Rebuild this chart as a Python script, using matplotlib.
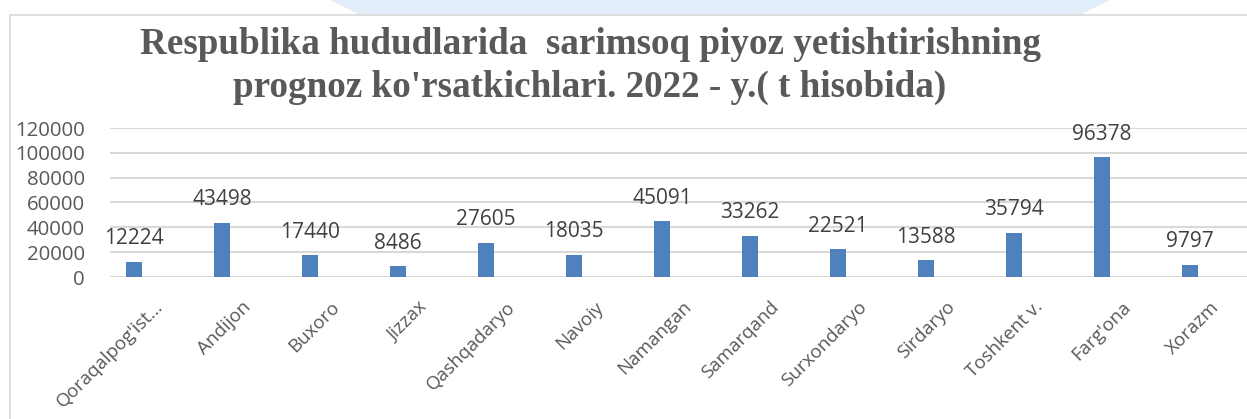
import matplotlib
matplotlib.use('Agg')
from matplotlib import pyplot
from matplotlib.patches import Rectangle, Polygon

regions = ["Qoraqalpog'ist...", 'Andijon', 'Buxoro', 'Jizzax', 'Qashqadaryo', 'Navoiy',
           'Namangan', 'Samarqand', 'Surxondaryo', 'Sirdaryo', 'Toshkent v.', "Farg'ona", 'Xorazm']
garlic_tonnes = [12224, 43498, 17440, 8486, 27605, 18035, 45091, 33262, 22521, 13588, 35794, 96378, 9797]
y_ticks = [0, 20000, 40000, 60000, 80000, 100000, 120000]
title = ("Respublika hududlarida  sarimsoq piyoz yetishtirishning\n"
         "prognoz ko'rsatkichlari. 2022 - y.( t hisobida)")

W, H = 1247, 419
fig = pyplot.figure(figsize=(W / 100, H / 100), dpi=100)

# faint watermark shape above the chart frame
fig.patches.append(Polygon([(330 / W, 1), (1110 / W, 1), (1080 / W, 1 - 15 / H), (360 / W, 1 - 15 / H)],
                           closed=True, transform=fig.transFigure, facecolor='#e3eefb',
                           edgecolor='none', zorder=0))
# chart frame
fig.patches.append(Rectangle((10 / W, -0.1), 1.2, 1 - 15 / H + 0.1, transform=fig.transFigure,
                             facecolor='none', edgecolor='#d9d9d9', linewidth=1.2, zorder=1))

ax = fig.add_axes([110 / W, (H - 277) / H, 1144 / W, 149 / H])
xs = [i - 0.227 for i in range(len(regions))]
ax.bar(xs, garlic_tonnes, width=0.175, color='#4f81bd', zorder=3)
for x, v in zip(xs, garlic_tonnes):
    ax.annotate(f'{v}', (x, v), xytext=(0, 9), textcoords='offset points', ha='center',
                va='bottom', fontsize=15, color='#404040', family='Open Sans')

ax.set_xlim(-0.5, len(regions) - 0.5)
ax.set_ylim(0, 120000)
ax.set_yticks(y_ticks)
ax.set_yticklabels([str(t) for t in y_ticks], fontsize=14.7, color='#595959', family='Open Sans')
ax.set_xticks(range(len(regions)))
ax.set_xticklabels(regions, rotation=45, ha='right', rotation_mode='anchor', fontsize=13.5,
                   color='#595959', family='Open Sans')
ax.tick_params(length=0)
ax.tick_params(axis='x', pad=15)
ax.tick_params(axis='y', pad=18)
ax.grid(axis='y', color='#d9d9d9', linewidth=1.5, zorder=0)
for s in ax.spines.values():
    s.set_visible(False)

fig.text(590 / W, 1 - 27 / H, title, ha='center', va='top', fontsize=26.7, fontweight='bold',
         family='Liberation Serif', color='#595959', linespacing=1.3)

fig.savefig('out.png', dpi=100)
